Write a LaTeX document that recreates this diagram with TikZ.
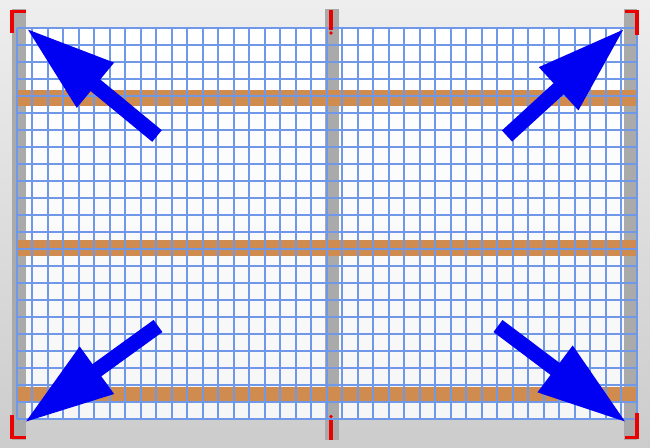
\documentclass[tikz,border=0pt]{standalone}
\usepackage{tikz}
\usetikzlibrary{arrows.meta}
\definecolor{gridblue}{RGB}{112,152,232}
\definecolor{beam}{RGB}{208,140,78}
\definecolor{post}{RGB}{170,170,170}
\definecolor{bgtop}{RGB}{238,238,238}
\definecolor{bgbot}{RGB}{204,204,204}

\begin{document}
\begin{tikzpicture}[
  x=1pt, y=-1pt,
  gridline/.style={gridblue,line width=1.9pt},
  postbar/.style={fill=post},
  beambar/.style={fill=beam},
  corner/.style={red!92!black,line width=3.6pt},
  bigarrow/.style={blue!95!black,line width=15pt,-{Triangle[length=90pt,width=54pt]}}
]

% ---- Background ----
\useasboundingbox (0,0) rectangle (650,447);
\shade[top color=bgtop,bottom color=bgbot] (0,0) rectangle (650,447);
\shade[top color=white,bottom color=gray!7] (16.8,28.3) rectangle (636.8,419.3);

% ---- Posts ----
\foreach \a/\b in {12/26,325/339,624/637} {
  \fill[postbar] (\a,9) rectangle (\b,440);
}

% ---- Beams ----
\foreach \y in {90,240,387} {
  \fill[beambar] (16.8,\y) rectangle (636.8,\y+15.5);
}

% ---- Grid ----
\foreach \i in {0,...,40} {
  \draw[gridline] (16.8+15.5*\i,28.3) -- (16.8+15.5*\i,419.3);
}
\foreach \j in {0,...,23} {
  \draw[gridline] (16.8,28.3+17*\j) -- (636.8,28.3+17*\j);
}

% ---- Corner marks ----
\draw[corner] (12,33) -- (12,11.5) -- (26,11.5);
\draw[corner] (625,11.5) -- (637,11.5) -- (637,35);
\draw[corner] (12,415) -- (12,437.5) -- (26,437.5);
\draw[corner] (637,413) -- (637,437.5) -- (625,437.5);
\draw[corner] (331,9.5) -- (331,29.5);
\fill[red!92!black] (331,33) circle (1.8);
\draw[corner] (331,420) -- (331,440);
\fill[red!92!black] (331,416.5) circle (1.8);

% ---- Arrows ----
\coordinate (tl) at (26,28);
\coordinate (tlEnd) at (157,136);
\coordinate (tr) at (625,28);
\coordinate (trEnd) at (507,136);
\coordinate (bl) at (24,423);
\coordinate (blEnd) at (158,326);
\coordinate (br) at (627,423);
\coordinate (brEnd) at (498,326);

\foreach \a/\b in {tlEnd/tl,trEnd/tr,blEnd/bl,brEnd/br} {
  \draw[bigarrow] (\a) -- (\b);
}

\end{tikzpicture}
\end{document}
